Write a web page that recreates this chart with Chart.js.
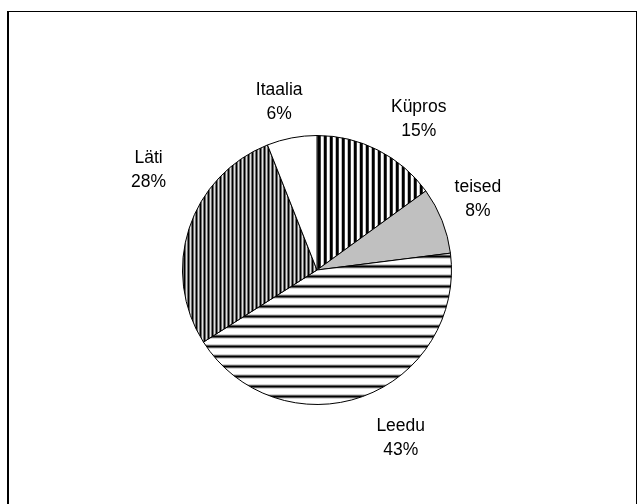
<!DOCTYPE html>
<html>
<head>
<meta charset="utf-8">
<script src="https://cdn.jsdelivr.net/npm/chart.js@4.4.0/dist/chart.umd.min.js"></script>
<style>
html, body { margin: 0; padding: 0; background: #fff; }
canvas { display: block; }
</style>
</head>
<body>
<canvas id="pieChart" width="638" height="504"></canvas>
<script>
// slices, clockwise from 12 o'clock
var countries = ['Küpros', 'teised', 'Leedu', 'Läti', 'Itaalia'];
var shares = [15, 8, 43, 28, 6];
var percentLabels = ['15%', '8%', '43%', '28%', '6%'];

// grey levels of one stripe period
function stripes(shades, vertical) {
    var c = document.createElement('canvas');
    c.width = vertical ? shades.length : 1;
    c.height = vertical ? 1 : shades.length;
    var g = c.getContext('2d');
    shades.forEach(function (s, i) {
        g.fillStyle = 'rgb(' + s + ',' + s + ',' + s + ')';
        if (vertical) g.fillRect(i, 0, 1, 1);
        else g.fillRect(0, i, 1, 1);
    });
    return g.createPattern(c, 'repeat');
}

var fills = [
    stripes([0, 0, 60, 255, 255, 190], true),          // Küpros
    '#c0c0c0',                                          // teised
    stripes([255, 255, 255, 255, 210, 90, 0, 90, 215, 255], false), // Leedu
    stripes([0, 110, 225, 115], true),                  // Läti
    '#ffffff'                                           // Itaalia
];

// frame round the picture (open at the bottom)
const framePlugin = {
    id: 'frame',
    beforeDraw(chart) {
        const ctx = chart.ctx;
        ctx.save();
        ctx.fillStyle = '#fff';
        ctx.fillRect(0, 0, chart.width, chart.height);
        ctx.strokeStyle = '#000';
        ctx.lineWidth = 1;
        ctx.beginPath();
        ctx.moveTo(7, 11.5);
        ctx.lineTo(637, 11.5);
        ctx.moveTo(636.5, 11);
        ctx.lineTo(636.5, chart.height);
        ctx.stroke();
        ctx.lineWidth = 2;
        ctx.beginPath();
        ctx.moveTo(8, 11);
        ctx.lineTo(8, chart.height);
        ctx.stroke();
        ctx.restore();
    }
};

// name + percent outside each slice
var labelNudge = [[27, -6], [8, -12], [28, 12], [-12, -50], [-7, -8]];

const sliceLabels = {
    id: 'sliceLabels',
    afterDatasetsDraw(chart) {
        const ctx = chart.ctx;
        const meta = chart.getDatasetMeta(0);
        ctx.save();
        ctx.fillStyle = '#000';
        ctx.font = '17.5px "Liberation Sans", Arial, sans-serif';
        ctx.textAlign = 'center';
        ctx.textBaseline = 'alphabetic';
        meta.data.forEach(function (arc, i) {
            const p = arc.getProps(['x', 'y', 'startAngle', 'endAngle', 'outerRadius'], true);
            const mid = (p.startAngle + p.endAngle) / 2;
            const d = p.outerRadius + 30;
            const cx = p.x + Math.cos(mid) * d + labelNudge[i][0];
            const cy = p.y + Math.sin(mid) * d + labelNudge[i][1];
            ctx.fillText(countries[i], cx, cy - 12 + 6.3);
            ctx.fillText(percentLabels[i], cx, cy + 12 + 6.3);
        });
        ctx.restore();
    }
};

const pieChart = new Chart('pieChart', {
    type: 'pie',
    data: {
        labels: countries,
        datasets: [{
            data: shares,
            backgroundColor: fills,
            borderColor: '#000',
            borderWidth: 1
        }]
    },
    options: {
        responsive: false,
        devicePixelRatio: 1,
        animation: false,
        layout: {
            padding: { left: 182, right: 186, top: 135, bottom: 99 }
        },
        plugins: {
            legend: { display: false },
            tooltip: { enabled: false }
        }
    },
    plugins: [framePlugin, sliceLabels]
});
</script>
</body>
</html>
